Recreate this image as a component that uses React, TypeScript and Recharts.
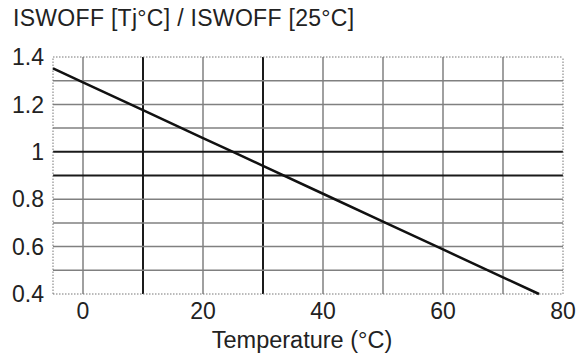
import { ComposedChart, Line, XAxis, YAxis, ReferenceLine, Label } from 'recharts';

// normalised switch-off current vs junction temperature
const temperature = [-5, 0, 10, 20, 25, 30, 40, 50, 60, 70, 76];
const ratio = [1.352, 1.293, 1.176, 1.058, 1.0, 0.941, 0.823, 0.705, 0.588, 0.47, 0.4];

const xTicks = [0, 20, 40, 60, 80];
const yTicks = [0.4, 0.6, 0.8, 1, 1.2, 1.4];
const xGrid = [0, 10, 20, 30, 40, 50, 60, 70];
const xGridBold = [10, 30];
const yGrid = [0.5, 0.6, 0.7, 0.8, 0.9, 1.0, 1.1, 1.2, 1.3];
const yGridBold = [0.9, 1.0];

const data = temperature.map((t, i) => ({ t, r: ratio[i] }));

const font = 'Liberation Sans, Arial, sans-serif';
const tickStyle = { fontSize: 23, fill: '#222', fontFamily: font };

export default function App() {
    return (
        <div style={{ position: 'absolute', left: 0, top: 0, width: 585, height: 358, background: '#fff' }}>
            <div style={{ position: 'absolute', left: 13, top: 5, fontSize: 23, fontFamily: font, color: '#222', whiteSpace: 'nowrap', letterSpacing: 0.3 }}>
                ISWOFF [Tj°C] / ISWOFF [25°C]
            </div>
            <ComposedChart width={585} height={358} data={data} margin={{ top: 57, right: 22, bottom: 0, left: 0 }}>
                <XAxis
                    dataKey="t"
                    type="number"
                    domain={[-5, 80]}
                    ticks={xTicks}
                    axisLine={false}
                    tickLine={false}
                    tickSize={0}
                    tickMargin={9}
                    height={64}
                    tick={tickStyle}
                    interval={0}
                >
                    <Label value="Temperature (°C)" position="insideBottom" offset={10} dx={-6} style={{ fontSize: 23.5, fill: '#222', fontFamily: font }} />
                </XAxis>
                <YAxis
                    type="number"
                    domain={[0.4, 1.4]}
                    ticks={yTicks}
                    axisLine={false}
                    tickLine={false}
                    tickSize={0}
                    tickMargin={9}
                    width={53}
                    tick={tickStyle}
                    interval={0}
                    tickFormatter={(v: number) => String(v)}
                />
                {xGrid.map((x) => (
                    <ReferenceLine key={`vx${x}`} x={x} stroke={xGridBold.includes(x) ? '#1a1a1a' : '#808080'} strokeWidth={xGridBold.includes(x) ? 2 : 1.5} />
                ))}
                {yGrid.map((y) => (
                    <ReferenceLine key={`hy${y}`} y={y} stroke={yGridBold.includes(y) ? '#1a1a1a' : '#808080'} strokeWidth={yGridBold.includes(y) ? 2 : 1.5} />
                ))}
                <ReferenceLine x={-5} stroke="#777" strokeDasharray="1.5 1.5" />
                <ReferenceLine x={80} stroke="#777" strokeDasharray="1.5 1.5" />
                <ReferenceLine y={0.4} stroke="#777" strokeDasharray="1.5 1.5" />
                <ReferenceLine y={1.4} stroke="#777" strokeDasharray="1.5 1.5" />
                <Line dataKey="r" stroke="#111" strokeWidth={2.5} dot={false} isAnimationActive={false} />
            </ComposedChart>
        </div>
    );
}
